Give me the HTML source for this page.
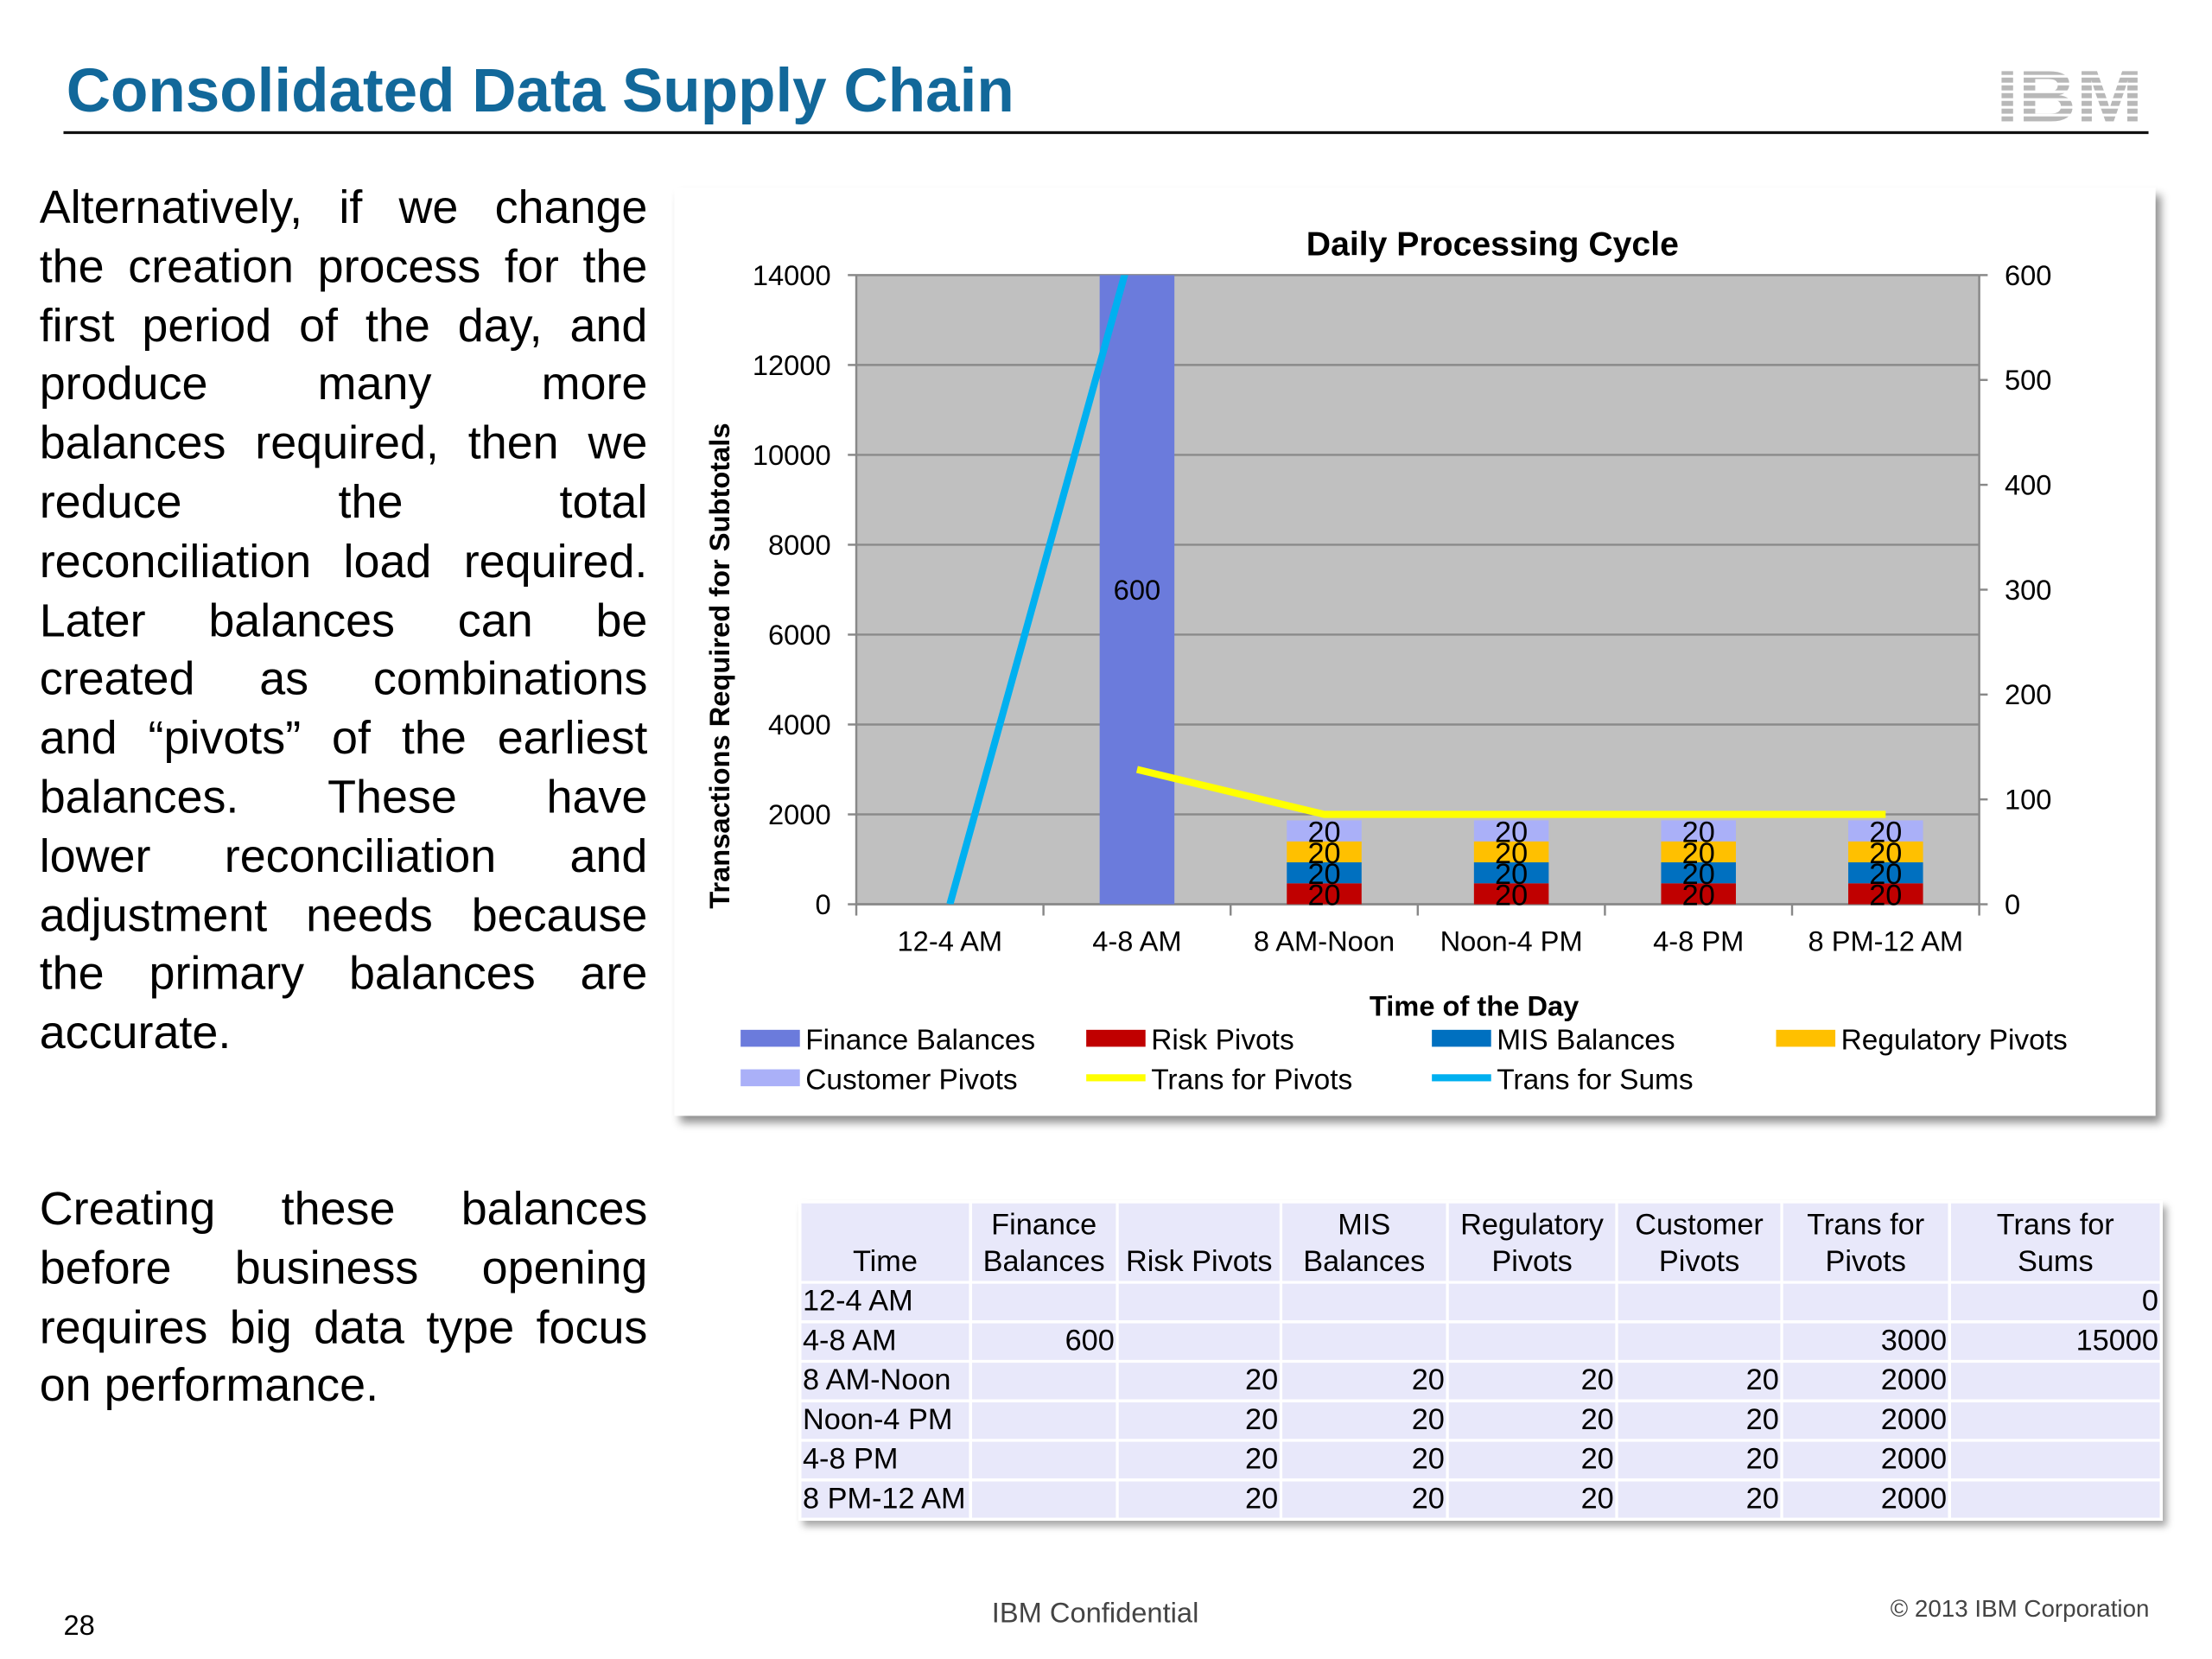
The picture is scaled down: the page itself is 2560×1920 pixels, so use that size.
<!DOCTYPE html>
<html><head><meta charset="utf-8">
<style>
html,body{margin:0;padding:0;background:#fff;width:2560px;height:1920px;overflow:hidden}
#frame{position:absolute;left:0;top:0;width:1568px;height:1176px;transform:scale(1.63265);transform-origin:0 0;font-family:"Liberation Sans",Arial,sans-serif;color:#000}
.title{position:absolute;left:47px;top:41px;font-size:43.5px;font-weight:bold;color:#12689a;white-space:nowrap}
.rule{position:absolute;left:45px;top:93px;width:1478px;height:2px;background:#111}
.para{position:absolute;left:28px;width:431px;font-size:33px;line-height:41.8px}
.para div{text-align:justify;text-align-last:justify;white-space:nowrap}
.para div.last{text-align-last:left}
.chartbox{position:absolute;left:478px;top:133px;width:1050px;height:658px;background:#fff;box-shadow:4px 5px 6px rgba(0,0,0,.45)}
table{position:absolute;left:566px;top:851px;border-collapse:collapse;font-size:21px;table-layout:fixed;width:965px;box-shadow:3px 4px 5px rgba(0,0,0,.35)}
td{background:#e8e8fa;border:2px solid #fff;padding:0 1px;height:26px;line-height:26px;text-align:right;white-space:nowrap;overflow:hidden}
td:first-child{text-align:left}
tr.h td{text-align:center;line-height:26px;vertical-align:bottom;height:55px}
.foot{position:absolute;font-size:20px;white-space:nowrap}
</style></head>
<body>
<div id="frame">
<div class="title">Consolidated Data Supply Chain</div>
<div class="rule"></div>
<svg style="position:absolute;left:1414px;top:44px" width="106" height="44">
<defs><pattern id="stripes" width="4" height="5.5" patternUnits="userSpaceOnUse"><rect width="4" height="3.6" fill="#b8b8b8"/></pattern></defs>
<text x="53" y="42" text-anchor="middle" font-family="Liberation Sans" font-weight="bold" font-size="52" fill="url(#stripes)" textLength="104" lengthAdjust="spacingAndGlyphs">IBM</text>
</svg>
<div class="para" style="top:126px">
<div>Alternatively, if we change</div>
<div>the creation process for the</div>
<div>first period of the day, and</div>
<div>produce many more</div>
<div>balances required, then we</div>
<div>reduce the total</div>
<div>reconciliation load required.</div>
<div>Later balances can be</div>
<div>created as combinations</div>
<div>and “pivots” of the earliest</div>
<div>balances. These have</div>
<div>lower reconciliation and</div>
<div>adjustment needs because</div>
<div>the primary balances are</div>
<div class="last">accurate.</div>
</div>
<div class="para" style="top:836px">
<div>Creating these balances</div>
<div>before business opening</div>
<div>requires big data type focus</div>
<div class="last">on performance.</div>
</div>

<div class="chartbox"></div>
<svg id="chart" style="position:absolute;left:0;top:0" width="1568" height="1176" font-family="Liberation Sans, Arial, sans-serif"></svg>

<table>
<colgroup><col style="width:121px"><col style="width:104px"><col style="width:116px"><col style="width:118px"><col style="width:120px"><col style="width:117px"><col style="width:119px"><col style="width:150px"></colgroup>
<tr class="h"><td style="text-align:center">Time</td><td>Finance<br>Balances</td><td>Risk Pivots</td><td>MIS<br>Balances</td><td>Regulatory<br>Pivots</td><td>Customer<br>Pivots</td><td>Trans for<br>Pivots</td><td>Trans for<br>Sums</td></tr>
<tr><td>12-4 AM</td><td></td><td></td><td></td><td></td><td></td><td></td><td>0</td></tr>
<tr><td>4-8 AM</td><td>600</td><td></td><td></td><td></td><td></td><td>3000</td><td>15000</td></tr>
<tr><td>8 AM-Noon</td><td></td><td>20</td><td>20</td><td>20</td><td>20</td><td>2000</td><td></td></tr>
<tr><td>Noon-4 PM</td><td></td><td>20</td><td>20</td><td>20</td><td>20</td><td>2000</td><td></td></tr>
<tr><td>4-8 PM</td><td></td><td>20</td><td>20</td><td>20</td><td>20</td><td>2000</td><td></td></tr>
<tr><td>8 PM-12 AM</td><td></td><td>20</td><td>20</td><td>20</td><td>20</td><td>2000</td><td></td></tr>
</table>

<div class="foot" style="left:45px;top:1142px">28</div>
<div class="foot" style="left:703px;top:1133px;color:#444">IBM Confidential</div>
<div class="foot" style="left:1340px;top:1131px;font-size:17px;color:#444">© 2013 IBM Corporation</div>
</div>
<script>
const categories=["12-4 AM","4-8 AM","8 AM-Noon","Noon-4 PM","4-8 PM","8 PM-12 AM"];
const financeBalances=[null,600,null,null,null,null];
const riskPivots=[null,null,20,20,20,20];
const misBalances=[null,null,20,20,20,20];
const regulatoryPivots=[null,null,20,20,20,20];
const customerPivots=[null,null,20,20,20,20];
const transForPivots=[null,3000,2000,2000,2000,2000];
const transForSums=[0,15000,null,null,null,null];
const leftTicks=[0,2000,4000,6000,8000,10000,12000,14000];
const rightTicks=[0,100,200,300,400,500,600];

const NS="http://www.w3.org/2000/svg";
const svg=document.getElementById('chart');
const P={l:607,r:1403,t:195,b:641};
const yL=v=>P.b-(v/14000)*(P.b-P.t);
const yR=v=>P.b-(v/600)*(P.b-P.t);
const bw=(P.r-P.l)/categories.length;
const xC=i=>P.l+bw*(i+0.5);
function mk(tag,attrs,parent){const e=document.createElementNS(NS,tag);for(const k in attrs)e.setAttribute(k,attrs[k]);(parent||svg).appendChild(e);return e;}

const defs=mk('defs',{});
const cp=mk('clipPath',{id:'plotclip'},defs);
mk('rect',{x:P.l,y:P.t,width:P.r-P.l,height:P.b-P.t},cp);

const bg=mk('rect',{x:P.l,y:P.t,width:P.r-P.l,height:P.b-P.t,fill:'#c0c0c0'});



leftTicks.forEach(t=>{
  const g=mk('line',{x1:P.l,x2:P.r,y1:yL(t),y2:yL(t),stroke:'#8a8a8a','stroke-width':1.5});
  
  
  mk('line',{x1:P.l-6,x2:P.l,y1:yL(t),y2:yL(t),stroke:'#888','stroke-width':1.5});
  const tx=mk('text',{x:P.l-18,y:yL(t)+7,'text-anchor':'end','font-size':20});
  tx.textContent=t;
  
  
});
rightTicks.forEach(t=>{
  mk('line',{x1:P.r,x2:P.r+6,y1:yR(t),y2:yR(t),stroke:'#888','stroke-width':1.5});
  const tx=mk('text',{x:P.r+18,y:yR(t)+7,'font-size':20});
  tx.textContent=t;
  
  
});
mk('line',{x1:P.l,x2:P.l,y1:P.t,y2:P.b,stroke:'#888','stroke-width':1.5});
mk('line',{x1:P.r,x2:P.r,y1:P.t,y2:P.b,stroke:'#888','stroke-width':1.5});
mk('line',{x1:P.l,x2:P.r,y1:P.b,y2:P.b,stroke:'#888','stroke-width':1.5});
for(let i=0;i<=categories.length;i++)mk('line',{x1:P.l+bw*i,x2:P.l+bw*i,y1:P.b,y2:P.b+8,stroke:'#888','stroke-width':1.5});
categories.forEach((c,i)=>{
  const tx=mk('text',{x:xC(i),y:674,'text-anchor':'middle','font-size':20});
  tx.textContent=c;
  
  
});

const clipG=mk('g',{'clip-path':'url(#plotclip)'});
const barW=53;
const stacks=[[riskPivots,'#c00000','risk-pivots'],[misBalances,'#0070c0','mis-balances'],[regulatoryPivots,'#ffc000','regulatory-pivots'],[customerPivots,'#aab0f8','customer-pivots']];
categories.forEach((c,i)=>{
  if(financeBalances[i]!=null){
    const v=financeBalances[i];
    const r=mk('rect',{x:xC(i)-barW/2,y:yR(v),width:barW,height:P.b-yR(v),fill:'#6b7bdc'},clipG);
    
    
    const tx=mk('text',{x:xC(i),y:(yR(v)+P.b)/2+7,'text-anchor':'middle','font-size':20});
    tx.textContent=v;
  }
  let base=0;
  stacks.forEach(([arr,col,nm])=>{
    const v=arr[i]; if(v==null)return;
    const y1=yR(base+v), y0=yR(base);
    const r=mk('rect',{x:xC(i)-barW/2,y:y1,width:barW,height:y0-y1,fill:col},clipG);
    
    
    const tx=mk('text',{x:xC(i),y:(y0+y1)/2+8,'text-anchor':'middle','font-size':21});
    tx.textContent=v;
    base+=v;
  });
});
function line(arr,col,nm){
  const pts=[];arr.forEach((v,i)=>{if(v!=null)pts.push(xC(i)+','+yL(v));});
  const p=mk('polyline',{points:pts.join(' '),fill:'none',stroke:col,'stroke-width':5},clipG);
  
  
}
line(transForPivots,'#ffff00','line-trans-for-pivots');
line(transForSums,'#00b0f0','line-trans-for-sums');

const t1=mk('text',{x:1058,y:181,'text-anchor':'middle','font-size':24,'font-weight':'bold'});
t1.textContent='Daily Processing Cycle';


const xt=mk('text',{x:1045,y:720,'text-anchor':'middle','font-size':20,'font-weight':'bold'});
xt.textContent='Time of the Day';


const yt=mk('text',{x:0,y:0,'text-anchor':'middle','font-size':20,'font-weight':'bold',transform:'translate(517,472) rotate(-90)'});
yt.textContent='Transactions Required for Subtotals';



const legend=[['Finance Balances','#6b7bdc',525,736,'bar'],['Risk Pivots','#c00000',770,736,'bar'],['MIS Balances','#0070c0',1015,736,'bar'],['Regulatory Pivots','#ffc000',1259,736,'bar'],['Customer Pivots','#aab0f8',525,764,'bar'],['Trans for Pivots','#ffff00',770,764,'line'],['Trans for Sums','#00b0f0',1015,764,'line']];
legend.forEach(([lab,col,x,y,kind])=>{
  const g=mk('g',{});
  
  
  if(kind==='bar')mk('rect',{x:x,y:y-6,width:42,height:12,fill:col},g);
  else mk('rect',{x:x,y:y-2.5,width:42,height:5,fill:col},g);
  const tx=mk('text',{x:x+46,y:y+8,'font-size':20.5},g);
  tx.textContent=lab;
});
</script>
</body></html>
